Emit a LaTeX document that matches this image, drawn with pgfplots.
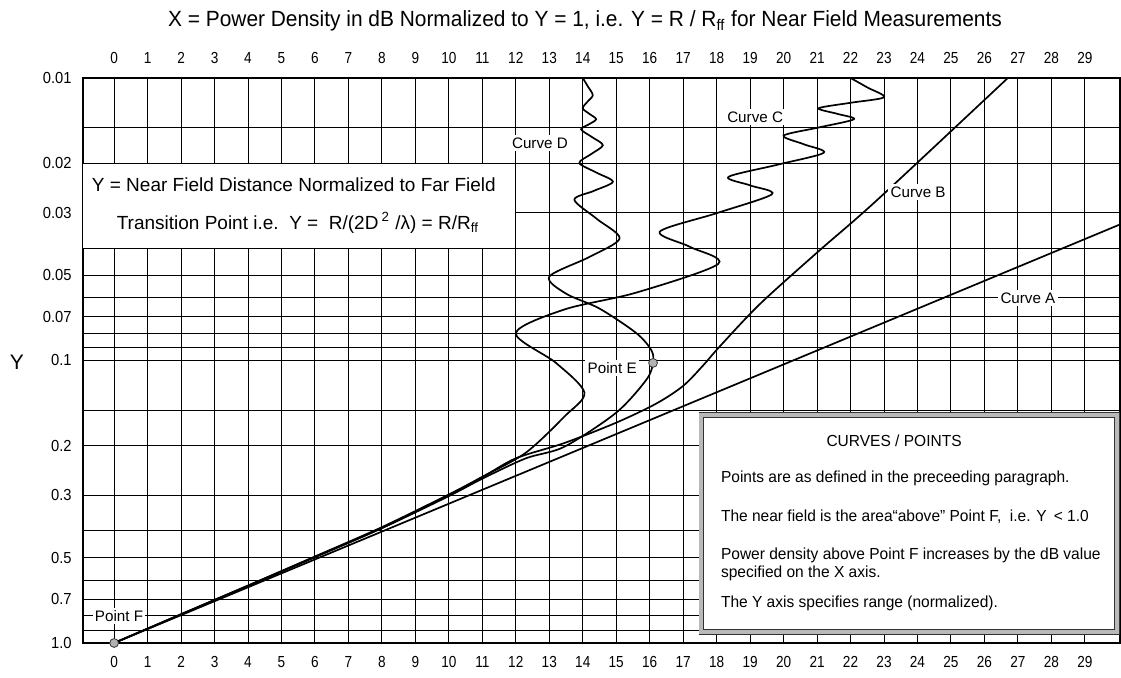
\documentclass[border=0pt]{standalone}
\usepackage{pgfplots}
\pgfplotsset{compat=1.18}
\usepackage{fontspec}
\setmainfont{Liberation Sans}
\newfontfamily\condx[FakeStretch=0.85]{Liberation Sans}
\newfontfamily\condy[FakeStretch=0.92]{Liberation Sans}
\newfontfamily\titlef[FakeStretch=0.95]{Liberation Sans}
\newfontfamily\boxf[FakeStretch=0.97]{Liberation Sans}
\newcommand\xticklab{\condx\fontsize{8}{9}\selectfont}
\newcommand\yticklab{\condy\fontsize{8}{9}\selectfont}
\newcommand\lab{\fontsize{7.6}{9}\selectfont}
\newcommand\boxsmall{\boxf\fontsize{8}{9.5}\selectfont}
\newcommand\boxbig{\fontsize{9.5}{11}\selectfont}

\pgfplotstableread{
x y
0 1
30.05 0.0330
}\curveA

\pgfplotstableread{
x y
0 1
2 0.792
4 0.628
6 0.497
8 0.392
10 0.300
11 0.259
12 0.222
13.45 0.196
15 0.166
16.2 0.142
17.0 0.123
17.6 0.104
18.1 0.089
19.3 0.063
21.05 0.041
22.8 0.027
26.7 0.010
}\curveB

\pgfplotstableread{
x y
22.0 0.0100
22.5 0.0108
23.0 0.0117
22.0 0.01224
21.05 0.0128
21.6 0.01339
22.1 0.0140
21.05 0.01497
20.0 0.0160
20.6 0.01716
21.2 0.0184
19.8 0.0203
18.35 0.0224
19.0 0.0240
19.65 0.0258
18.0 0.0301
16.3 0.0350
17.2 0.0396
18.05 0.0455
15.6 0.0575
13.45 0.0660
12.0 0.0800
13.2 0.102
14.05 0.130
13.45 0.158
12.3 0.212
11 0.258
10 0.298
8 0.389
6 0.494
4 0.626
2 0.791
0 1
}\curveC

\pgfplotstableread{
x y
14.0 0.0100
14.15 0.0107
14.3 0.0115
14.15 0.0121
14.0 0.0128
14.2 0.0134
14.4 0.0140
14.18 0.0146
13.95 0.0152
14.28 0.0162
14.6 0.0173
14.25 0.0186
13.9 0.0200
14.4 0.0216
14.9 0.0233
14.33 0.0251
13.75 0.0270
14.43 0.0316
15.1 0.0370
14.2 0.0430
13.0 0.0505
13.5 0.0580
14.5 0.0655
15.6 0.0800
16.05 0.092
16.1 0.102
15.9 0.117
15.0 0.153
13.45 0.202
12.3 0.222
11 0.262
10 0.302
8 0.392
6 0.496
4 0.627
2 0.792
0 1
}\curveD

\begin{document}
\begin{tikzpicture}
\begin{axis}[
  at={(0,0)}, anchor=south west,
  scale only axis, width=518.5pt, height=282.5pt,
  xmin=-0.93, xmax=30.05,
  ymode=log, ymin=0.01, ymax=1, y dir=reverse,
  xtick={0,...,29},
  xticklabels={0,1,2,3,4,5,6,7,8,9,10,11,12,13,14,15,16,17,18,19,20,21,22,23,24,25,26,27,28,29},
  ytick={0.01,0.02,0.03,0.05,0.07,0.1,0.2,0.3,0.5,0.7,1},
  yticklabels={0.01,0.02,0.03,0.05,0.07,0.1,0.2,0.3,0.5,0.7,1.0},
  minor ytick={0.015,0.04,0.06,0.08,0.09,0.15,0.4,0.6,0.8,0.9},
  xmajorgrids, ymajorgrids, yminorgrids,
  major grid style={black, line width=0.5pt},
  minor grid style={black, line width=0.5pt},
  axis line style={black, line width=0.8pt},
  major tick length=0pt, minor tick length=0pt,
  tick style={draw=none},
  /pgf/number format/assume math mode=true,
  xticklabel style={font=\xticklab, inner sep=0pt, yshift=-6.5pt},
  yticklabel style={font=\yticklab, inner sep=0pt, xshift=-5.5pt},
]
\addplot[black, line width=0.85pt] table[x=x,y=y] {\curveA};
\addplot[black, line width=0.85pt, smooth] table[x=x,y=y] {\curveB};
\addplot[black, line width=0.85pt, smooth] table[x=x,y=y] {\curveC};
\addplot[black, line width=0.85pt, smooth] table[x=x,y=y] {\curveD};
\addplot[only marks, mark=*, mark size=2.2pt, color=gray!60, mark options={draw=gray!40!black, line width=0.4pt}] coordinates {(0,1) (16.1,0.102)};

% upper-left description box
\draw[fill=white, line width=0.5pt] (axis cs:-0.93,0.02) rectangle (axis cs:12,0.04);
\node[font=\boxbig] at (axis cs:5.37,0.0239) {Y = Near Field Distance Normalized to Far Field};
\node[font=\boxbig] at (axis cs:5.49,0.0326) {Transition Point i.e.\ \ Y = \ R/(2D\,\textsuperscript{2} /λ) = R/R\textsubscript{ff}};

% curves / points box
\draw[fill=white, draw=black!80, line width=0.4pt, double=gray!55, double distance=1.8pt] (axis cs:17.54,0.156) rectangle (axis cs:29.96,0.914);
\node[font=\boxsmall] at (axis cs:23.30,0.1928) {CURVES / POINTS};
\node[font=\boxsmall, anchor=west] at (axis cs:17.92,0.2606) {Points are as defined in the preceeding paragraph.};
\node[font=\boxsmall, anchor=west] at (axis cs:17.92,0.358) {The near field is the area“above” Point F,\ \ i.e. Y \,< 1.0};
\node[font=\boxsmall, anchor=west] at (axis cs:17.92,0.4885) {Power density above Point F increases by the dB value};
\node[font=\boxsmall, anchor=west] at (axis cs:17.92,0.565) {specified on the X axis.};
\node[font=\boxsmall, anchor=west] at (axis cs:17.92,0.7218) {The Y axis specifies range (normalized).};

% curve and point labels
\node[font=\lab, fill=white, inner sep=1.2pt] at (axis cs:12.72,0.0170) {Curve D};
\node[font=\lab, fill=white, inner sep=1.2pt] at (axis cs:19.15,0.01374) {Curve C};
\node[font=\lab, fill=white, inner sep=1.2pt] at (axis cs:24.02,0.0253) {Curve B};
\node[font=\lab, fill=white, inner sep=1.2pt] at (axis cs:27.30,0.06) {Curve A};
\node[font=\lab, fill=white, inner sep=1.2pt] at (axis cs:14.88,0.1063) {Point E};
\node[font=\lab, fill=white, inner sep=1.2pt] at (axis cs:0.146,0.8) {Point F};
\end{axis}

\begin{axis}[
  at={(0,0)}, anchor=south west,
  scale only axis, width=518.5pt, height=282.5pt,
  xmin=-0.93, xmax=30.05, ymin=0, ymax=1,
  xtick={0,...,29},
  xticklabels={0,1,2,3,4,5,6,7,8,9,10,11,12,13,14,15,16,17,18,19,20,21,22,23,24,25,26,27,28,29},
  ytick=\empty,
  xticklabel pos=upper,
  axis line style={draw=none},
  major tick length=0pt, tick style={draw=none},
  /pgf/number format/assume math mode=true,
  xticklabel style={font=\xticklab, inner sep=0pt, yshift=7pt},
]
\end{axis}

\node[font=\titlef\fontsize{11}{13}\selectfont] at (251pt,311pt) {X = Power Density in dB Normalized to Y = 1, i.e. Y = R / R\textsubscript{ff} for Near Field Measurements};
\node[font=\fontsize{10.5}{12}\selectfont] at (-33pt,140.5pt) {Y};

\pgfresetboundingbox
\path[use as bounding box] (-41.5pt,-17.5pt) rectangle (519pt,321.5pt);
\end{tikzpicture}
\end{document}
